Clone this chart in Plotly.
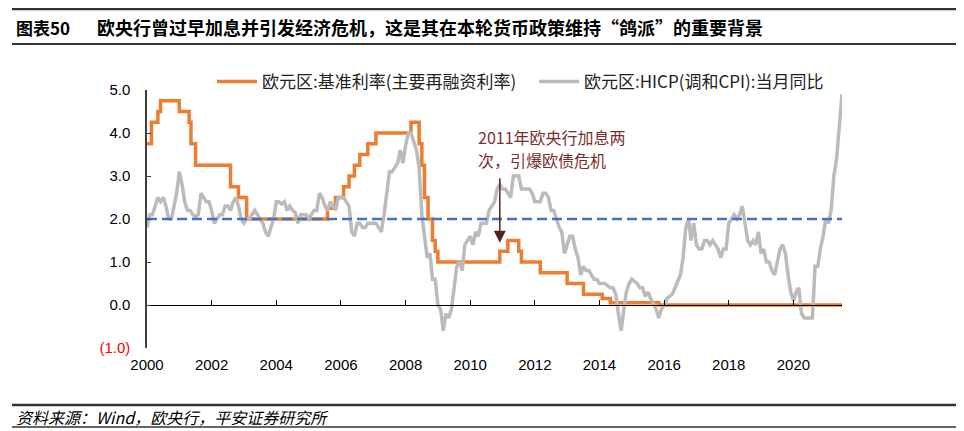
import pandas as pd
import plotly.graph_objects as go

# ---------------- data ----------------
# ECB main refinancing rate (%): dates of change and new level
rate_dates = ["2000-05-01", "2000-06-20", "2000-09-01", "2000-10-01", "2001-05-01",
              "2001-08-20", "2001-09-10", "2001-11-01", "2002-12-01", "2003-03-01",
              "2003-06-01", "2005-12-01", "2006-03-01", "2006-06-01", "2006-08-01",
              "2006-10-01", "2006-12-01", "2007-03-01", "2007-06-01", "2008-07-01",
              "2008-10-01", "2008-11-01", "2008-12-01", "2009-01-10", "2009-03-01",
              "2009-04-01", "2009-05-01", "2011-04-01", "2011-07-01", "2011-11-01",
              "2011-12-01", "2012-07-01", "2013-05-01", "2013-11-01", "2014-06-01",
              "2014-09-01", "2016-03-01", "2021-11-01"]
rate_values = [3.75, 4.25, 4.50, 4.75, 4.50, 4.25, 3.75, 3.25, 2.75, 2.50,
               2.00, 2.25, 2.50, 2.75, 3.00, 3.25, 3.50, 3.75, 4.00, 4.25,
               3.75, 3.25, 2.50, 2.00, 1.50, 1.25, 1.00, 1.25, 1.50, 1.25,
               1.00, 0.75, 0.50, 0.25, 0.15, 0.05, 0.00, 0.00]

# Euro area HICP y/y (%), monthly, from May 2000
hicp_2000 = [1.8, 2.1, 2.1, 2.3, 2.5, 2.4, 2.5, 2.3]
hicp_2001 = [2.0, 2.0, 2.3, 2.6, 3.1, 2.8, 2.4, 2.2, 2.2, 2.1, 2.05, 2.1]
hicp_2002 = [2.6, 2.5, 2.4, 2.4, 2.2, 1.9, 2.0, 2.1, 2.1, 2.3, 2.3, 2.2]
hicp_2003 = [2.4, 2.5, 2.3, 2.0, 1.9, 2.0, 2.0, 2.1, 2.2, 2.1, 2.0, 1.9]
hicp_2004 = [1.7, 1.6, 1.8, 2.0, 2.4, 2.4, 2.35, 2.4, 2.2, 2.3, 2.2, 2.15]
hicp_2005 = [1.9, 2.1, 2.1, 2.1, 2.0, 2.1, 2.2, 2.2, 2.6, 2.5, 2.3, 2.2]
hicp_2006 = [2.4, 2.3, 2.2, 2.5, 2.5, 2.5, 2.4, 2.3, 1.7, 1.6, 1.9, 1.9]
hicp_2007 = [1.8, 1.8, 1.9, 1.9, 1.9, 1.9, 1.8, 1.7, 2.1, 2.6, 3.1, 3.1]
hicp_2008 = [3.2, 3.3, 3.6, 3.3, 3.7, 4.0, 4.0, 3.8, 3.6, 3.2, 2.1, 1.6]
hicp_2009 = [1.1, 1.2, 0.6, 0.6, 0.0, -0.1, -0.6, -0.2, -0.3, -0.1, 0.5, 0.9]
hicp_2010 = [1.0, 0.8, 1.4, 1.5, 1.6, 1.4, 1.7, 1.6, 1.9, 1.9, 1.9, 2.2]
hicp_2011 = [2.3, 2.4, 2.7, 2.8, 2.7, 2.7, 2.6, 2.5, 3.0, 3.0, 3.0, 2.7]
hicp_2012 = [2.7, 2.7, 2.7, 2.6, 2.4, 2.4, 2.4, 2.6, 2.6, 2.5, 2.2, 2.2]
hicp_2013 = [2.0, 1.8, 1.7, 1.2, 1.4, 1.6, 1.6, 1.3, 1.1, 0.7, 0.9, 0.8]
hicp_2014 = [0.8, 0.7, 0.6, 0.6, 0.5, 0.5, 0.5, 0.45, 0.4, 0.4, 0.25, -0.2]
hicp_2015 = [-0.6, -0.1, 0.3, 0.5, 0.6, 0.55, 0.5, 0.4, 0.4, 0.2, 0.3, 0.15]
hicp_2016 = [0.0, -0.1, -0.3, -0.1, 0.0, 0.15, 0.2, 0.25, 0.4, 0.55, 0.7, 1.1]
hicp_2017 = [1.8, 2.0, 1.5, 1.9, 1.4, 1.3, 1.3, 1.5, 1.5, 1.4, 1.5, 1.4]
hicp_2018 = [1.3, 1.1, 1.3, 1.3, 1.9, 2.0, 2.1, 2.0, 2.1, 2.3, 1.9, 1.5]
hicp_2019 = [1.4, 1.5, 1.4, 1.7, 1.2, 1.3, 1.0, 1.0, 0.8, 0.7, 1.0, 1.3]
hicp_2020 = [1.4, 1.2, 0.7, 0.3, 0.1, 0.3, 0.4, -0.2, -0.3, -0.3, -0.3, -0.3]
hicp_2021 = [0.9, 0.9, 1.3, 1.6, 2.0, 1.9, 2.2, 3.0, 3.4, 4.1, 4.9]

inflation_target = 2.0
tick_years = [2000, 2002, 2004, 2006, 2008, 2010, 2012, 2014, 2016, 2018, 2020]
y_tick_values = [-1, 0, 1, 2, 3, 4, 5]

name_rate = "欧元区:基准利率(主要再融资利率)"
name_hicp = "欧元区:HICP(调和CPI):当月同比"

# ---------------- build ----------------
hicp_values = (hicp_2000 + hicp_2001 + hicp_2002 + hicp_2003 + hicp_2004 + hicp_2005 +
               hicp_2006 + hicp_2007 + hicp_2008 + hicp_2009 + hicp_2010 + hicp_2011 +
               hicp_2012 + hicp_2013 + hicp_2014 + hicp_2015 + hicp_2016 + hicp_2017 +
               hicp_2018 + hicp_2019 + hicp_2020 + hicp_2021)
hicp_dates = pd.date_range("2000-05-01", periods=len(hicp_values), freq="MS")
x_start, x_end = hicp_dates[0], hicp_dates[-1]

tickvals = [f"{y}-05-01" for y in tick_years]
ticktext = [str(y) for y in tick_years]
y_ticktext = ["<span style='color:#FF0000'>(1.0)</span>" if v < 0 else f"{v:.1f}" for v in y_tick_values]

FONT = "Liberation Sans, Arial, Noto Sans CJK SC, sans-serif"
CJK = "Noto Sans CJK SC, Liberation Sans, sans-serif"

# the page body has an 8px margin: figure origin sits at (8, 8) of the screenshot
OFF = 8
W, H = 964 - OFF, 431 - OFF
PLOT_L, PLOT_R, PLOT_T, PLOT_B = 147, 842, 90, 348   # screenshot pixels
L = PLOT_L - OFF
T = PLOT_T - OFF
R = W - (PLOT_R - OFF)
B = H - (PLOT_B - OFF)
PW, PH = PLOT_R - PLOT_L, PLOT_B - PLOT_T


def px(xs):
    return (xs - PLOT_L) / PW


def py(ys):
    return (PLOT_B - ys) / PH


fig = go.Figure()
fig.add_trace(go.Scatter(x=rate_dates, y=rate_values, name=name_rate, mode="lines",
                         line=dict(color="#ED7D31", width=3.5, shape="hv")))
fig.add_trace(go.Scatter(x=hicp_dates, y=hicp_values, name=name_hicp, mode="lines",
                         line=dict(color="#BBBBBB", width=3.5)))
fig.add_trace(go.Scatter(x=[x_start, x_end], y=[inflation_target, inflation_target],
                         mode="lines", showlegend=False, xaxis="x2",
                         line=dict(color="#4472C4", width=2.5, dash="10px,5px")))

fig.update_layout(
    width=W, height=H,
    margin=dict(l=L, r=R, t=T, b=B, pad=0),
    paper_bgcolor="white", plot_bgcolor="white",
    font=dict(family=FONT, size=15, color="#000000"),
    showlegend=True,
    legend=dict(orientation="h", x=px(212), y=py(82), xanchor="left", yanchor="middle",
                font=dict(family=CJK, size=17, color="#222222"),
                bgcolor="rgba(0,0,0,0)", entrywidth=267, entrywidthmode="pixels",
                itemwidth=40),
    xaxis=dict(type="date", range=[x_start, x_end], anchor="free", position=1/6,
               showline=True, linecolor="#000000", linewidth=1,
               ticks="inside", ticklen=5, tickcolor="#000000",
               tickvals=tickvals, showticklabels=False, showgrid=False, zeroline=False),
    xaxis2=dict(type="date", range=[x_start, x_end], overlaying="x", anchor="y", side="bottom",
                showline=False, ticks="", tickvals=tickvals, ticktext=ticktext,
                tickfont=dict(family=FONT, size=15, color="#000000"),
                ticklabelstandoff=6,
                showgrid=False, zeroline=False),
    yaxis=dict(range=[-1, 5], tickvals=y_tick_values, ticktext=y_ticktext,
               showline=True, linecolor="#404040", linewidth=1.5,
               ticks="inside", ticklen=4, tickcolor="#404040",
               tickfont=dict(family=FONT, size=15, color="#000000"),
               ticklabelstandoff=12,
               showgrid=False, zeroline=False),
)

ann_color = "#7B2E2E"
annotations = [
    dict(x=px(14), y=py(27), xref="paper", yref="paper", xanchor="left", yanchor="middle",
         text="<b>图表50</b>", showarrow=False, font=dict(family=CJK, size=17, color="#000000")),
    dict(x=px(95), y=py(27), xref="paper", yref="paper", xanchor="left", yanchor="middle",
         text="<b>欧央行曾过早加息并引发经济危机，这是其在本轮货币政策维持“鸽派”的重要背景</b>",
         showarrow=False, font=dict(family=CJK, size=18, color="#000000")),
    dict(x=px(14), y=py(417), xref="paper", yref="paper", xanchor="left", yanchor="middle",
         text="<i>资料来源：Wind，欧央行，平安证券研究所</i>", showarrow=False,
         font=dict(family=CJK, size=16, color="#000000")),
    dict(x=px(476), y=py(137), xref="paper", yref="paper", xanchor="left", yanchor="middle",
         text="2011年欧央行加息两", showarrow=False,
         font=dict(family=CJK, size=16, color=ann_color)),
    dict(x=px(476), y=py(160), xref="paper", yref="paper", xanchor="left", yanchor="middle",
         text="次，引爆欧债危机", showarrow=False,
         font=dict(family=CJK, size=16, color=ann_color)),
    dict(x="2011-04-01", y=1.45, xref="x", yref="y", ax="2011-04-01", ay=2.98,
         axref="x", ayref="y", text="", showarrow=True, arrowhead=2, arrowsize=1.6,
         arrowwidth=1.5, arrowcolor="#5C1F1F"),
]
fig.update_layout(annotations=annotations)

shapes = [
    dict(type="line", xref="paper", yref="paper", x0=px(12), x1=px(956), y0=py(9), y1=py(9),
         line=dict(color="#333333", width=2.5)),
    dict(type="line", xref="paper", yref="paper", x0=px(12), x1=px(956), y0=py(44), y1=py(44),
         line=dict(color="#333333", width=2)),
    dict(type="line", xref="paper", yref="paper", x0=px(12), x1=px(956), y0=py(405), y1=py(405),
         line=dict(color="#333333", width=2.5)),
    dict(type="line", xref="paper", yref="paper", x0=px(12), x1=px(956), y0=py(427), y1=py(427),
         line=dict(color="#333333", width=1.5)),
]
fig.update_layout(shapes=shapes)

fig.write_html("out.html")
